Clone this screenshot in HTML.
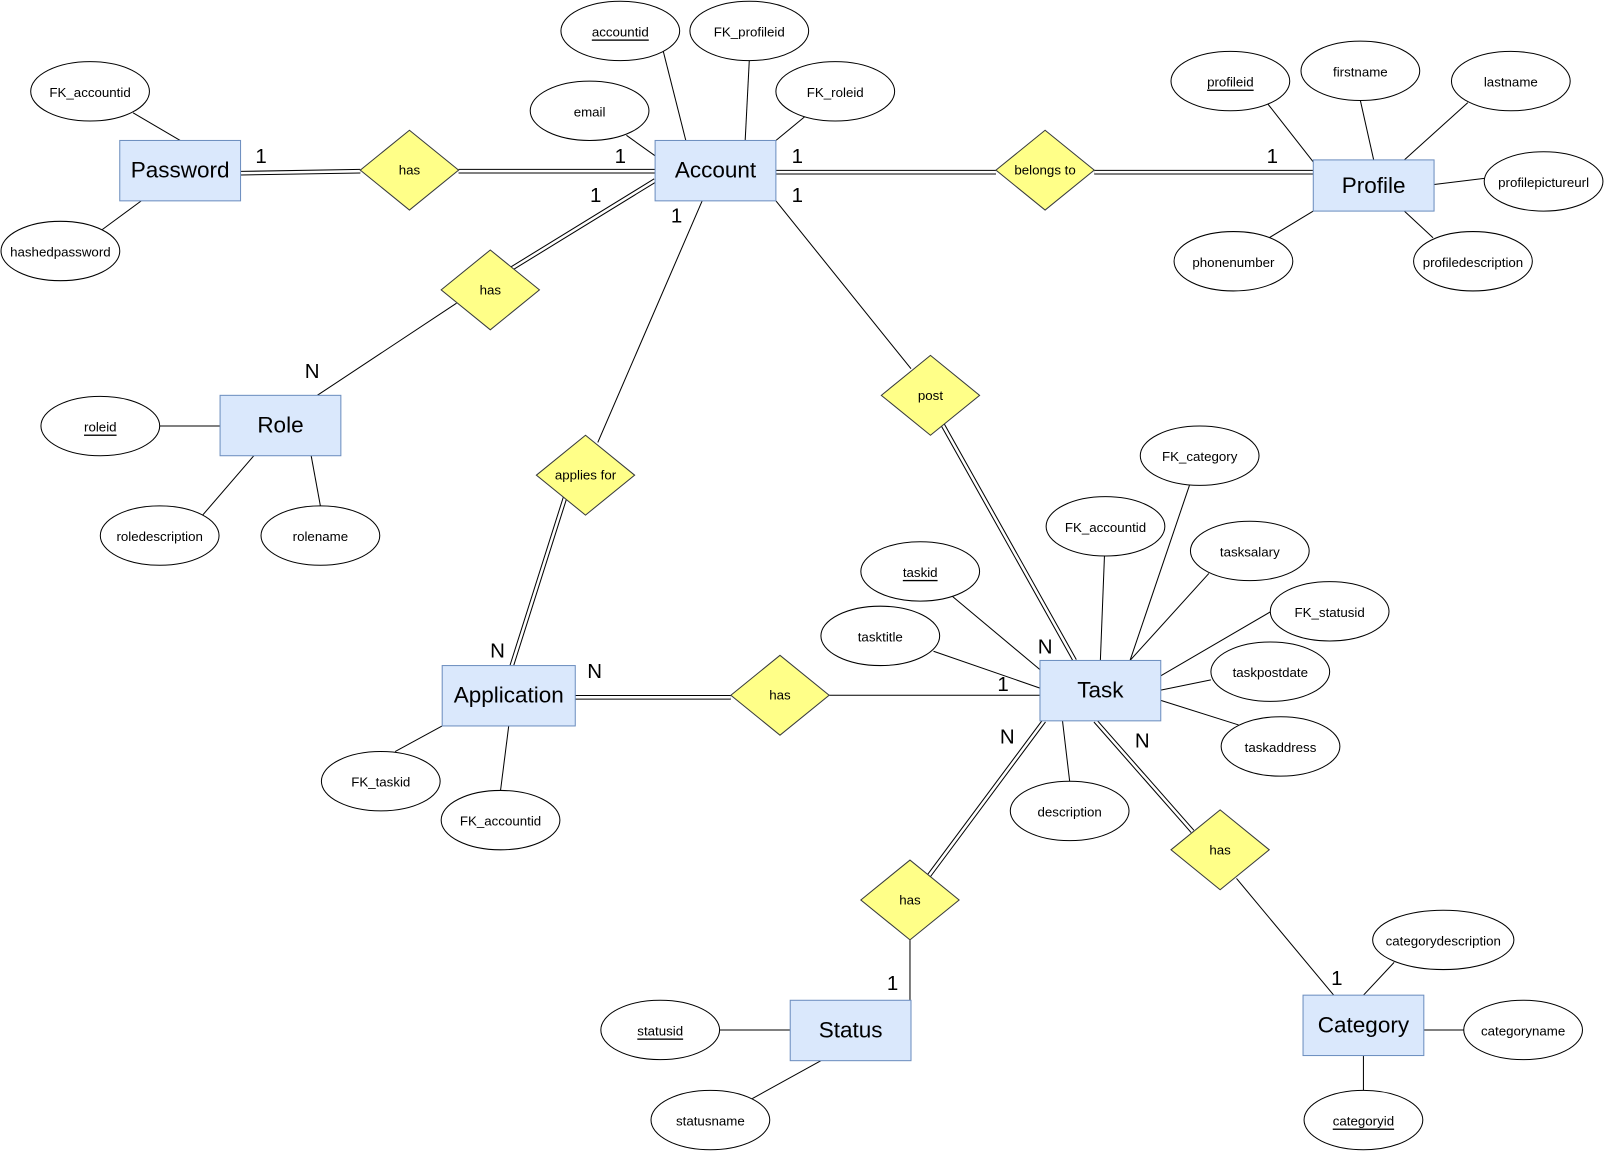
<!DOCTYPE html>
<html><head><meta charset="utf-8"><style>
html,body{margin:0;padding:0;background:#fff;}
svg{display:block;}
text{font-family:"Liberation Sans",Arial,sans-serif;fill:#000;}
.ent rect{fill:#dae8fc;stroke:#6c8ebf;stroke-width:1;}
.ent text{font-size:22px;text-anchor:middle;dominant-baseline:central;}
.att ellipse{fill:#fff;stroke:#000;stroke-width:1;}
.att text{font-size:13px;text-anchor:middle;dominant-baseline:central;}
.rel polygon{fill:#ffff88;stroke:#36393d;stroke-width:1;}
.rel text{font-size:13px;text-anchor:middle;dominant-baseline:central;}
.l{stroke:#000;stroke-width:1;fill:none;}
.d1{stroke:#000;stroke-width:4.5;fill:none;}
.d2{stroke:#fff;stroke-width:2.5;fill:none;}
.c{font-size:20px;text-anchor:middle;}
</style></head><body>
<svg width="1605" height="1152" viewBox="0 0 1568 1125" xmlns="http://www.w3.org/2000/svg">
<!-- attribute lines -->
<g class="l">
<line x1="130" y1="110" x2="176" y2="137"/><line x1="100" y1="224" x2="138" y2="196"/>
<line x1="648" y1="50" x2="670" y2="137"/><line x1="732" y1="59" x2="728" y2="137"/>
<line x1="612" y1="132" x2="640" y2="152"/><line x1="786" y1="114" x2="758" y2="137"/>
<line x1="1236" y1="98" x2="1283" y2="158"/><line x1="1329" y1="98" x2="1342" y2="156"/>
<line x1="1434" y1="100" x2="1372" y2="156"/><line x1="1450" y1="174" x2="1401" y2="180"/>
<line x1="1240" y1="232" x2="1283" y2="206"/><line x1="1400" y1="232" x2="1372" y2="206"/>
<line x1="156" y1="416" x2="215" y2="416"/><line x1="198" y1="503" x2="248" y2="445"/>
<line x1="313" y1="494" x2="304" y2="445"/>
<line x1="1162" y1="474" x2="1104" y2="645"/><line x1="1079" y1="543" x2="1075" y2="645"/>
<line x1="930" y1="582" x2="1016" y2="654"/><line x1="1181" y1="560" x2="1104" y2="645"/>
<line x1="912" y1="636" x2="1016" y2="672"/><line x1="1242" y1="597" x2="1134" y2="660"/>
<line x1="1183" y1="664" x2="1134" y2="674"/><line x1="1210" y1="708" x2="1134" y2="684"/>
<line x1="1045" y1="763" x2="1038" y2="704"/>
<line x1="386" y1="734" x2="432" y2="709"/><line x1="489" y1="772" x2="497" y2="709"/>
<line x1="1332" y1="972" x2="1362" y2="940"/><line x1="1391" y1="1006" x2="1430" y2="1006"/>
<line x1="1332" y1="1031" x2="1332" y2="1065"/>
<line x1="703" y1="1006" x2="772" y2="1006"/><line x1="735" y1="1073" x2="802" y2="1036"/>
</g>
<!-- relationship lines -->
<g>
<path class="d1" d="M235 169 L352 167 M448 167 L640 167 M758 168 L973 168 M1069 168 L1283 168 M640 176 L500 262 M920 413 L1050 645 M552 486 L500 650 M562 681 L714 681 M1020 704 L907 856 M1070 704 L1165 812"/>
<path class="d2" d="M235 169 L352 167 M448 167 L640 167 M758 168 L973 168 M1069 168 L1283 168 M640 176 L500 262 M920 413 L1050 645 M552 486 L500 650 M562 681 L714 681 M1020 704 L907 856 M1070 704 L1165 812"/>
<path class="l" d="M446 296 L310 386 M758 196 L890 360 M686 196 L584 432 M810 679 L1016 679 M889 918 L889 977 M1208 858 L1303 972"/>
</g>
<!-- entities -->
<g class="ent">
<rect x="117" y="137" width="118" height="59"/><text x="176" y="166">Password</text>
<rect x="640" y="137" width="118" height="59"/><text x="699" y="166">Account</text>
<rect x="1283" y="156" width="118" height="50"/><text x="1342" y="181">Profile</text>
<rect x="215" y="386" width="118" height="59"/><text x="274" y="415">Role</text>
<rect x="432" y="650" width="130" height="59"/><text x="497" y="679">Application</text>
<rect x="1016" y="645" width="118" height="59"/><text x="1075" y="674">Task</text>
<rect x="772" y="977" width="118" height="59"/><text x="831" y="1006">Status</text>
<rect x="1273" y="972" width="118" height="59"/><text x="1332" y="1001">Category</text>
</g>
<!-- relationships -->
<g class="rel">
<polygon points="352,166 400,127 448,166 400,205"/><text x="400" y="166">has</text>
<polygon points="973,166 1021,127 1069,166 1021,205"/><text x="1021" y="166">belongs to</text>
<polygon points="431,283 479,244 527,283 479,322"/><text x="479" y="283">has</text>
<polygon points="861,386 909,347 957,386 909,425"/><text x="909" y="386">post</text>
<polygon points="524,464 572,425 620,464 572,503"/><text x="572" y="464">applies for</text>
<polygon points="714,679 762,640 810,679 762,718"/><text x="762" y="679">has</text>
<polygon points="841,879 889,840 937,879 889,918"/><text x="889" y="879">has</text>
<polygon points="1144,830 1192,791 1240,830 1192,869"/><text x="1192" y="830">has</text>
</g>
<!-- attributes -->
<g class="att">
<ellipse cx="88" cy="89" rx="58" ry="29"/><text x="88" y="90">FK_accountid</text>
<ellipse cx="59" cy="245" rx="58" ry="29"/><text x="59" y="246">hashedpassword</text>
<ellipse cx="606" cy="30" rx="58" ry="29"/><text x="606" y="31" text-decoration="underline">accountid</text>
<ellipse cx="732" cy="30" rx="58" ry="29"/><text x="732" y="31">FK_profileid</text>
<ellipse cx="576" cy="108" rx="58" ry="29"/><text x="576" y="109">email</text>
<ellipse cx="816" cy="89" rx="58" ry="29"/><text x="816" y="90">FK_roleid</text>
<ellipse cx="1202" cy="79" rx="58" ry="29"/><text x="1202" y="80" text-decoration="underline">profileid</text>
<ellipse cx="1329" cy="69" rx="58" ry="29"/><text x="1329" y="70">firstname</text>
<ellipse cx="1476" cy="79" rx="58" ry="29"/><text x="1476" y="80">lastname</text>
<ellipse cx="1508" cy="177" rx="58" ry="29"/><text x="1508" y="178">profilepictureurl</text>
<ellipse cx="1205" cy="255" rx="58" ry="29"/><text x="1205" y="256">phonenumber</text>
<ellipse cx="1439" cy="255" rx="58" ry="29"/><text x="1439" y="256">profiledescription</text>
<ellipse cx="98" cy="416" rx="58" ry="29"/><text x="98" y="417" text-decoration="underline">roleid</text>
<ellipse cx="156" cy="523" rx="58" ry="29"/><text x="156" y="524">roledescription</text>
<ellipse cx="313" cy="523" rx="58" ry="29"/><text x="313" y="524">rolename</text>
<ellipse cx="1172" cy="445" rx="58" ry="29"/><text x="1172" y="446">FK_category</text>
<ellipse cx="1080" cy="514" rx="58" ry="29"/><text x="1080" y="515">FK_accountid</text>
<ellipse cx="899" cy="558" rx="58" ry="29"/><text x="899" y="559" text-decoration="underline">taskid</text>
<ellipse cx="1221" cy="538" rx="58" ry="29"/><text x="1221" y="539">tasksalary</text>
<ellipse cx="860" cy="621" rx="58" ry="29"/><text x="860" y="622">tasktitle</text>
<ellipse cx="1299" cy="597" rx="58" ry="29"/><text x="1299" y="598">FK_statusid</text>
<ellipse cx="1241" cy="656" rx="58" ry="29"/><text x="1241" y="657">taskpostdate</text>
<ellipse cx="1251" cy="729" rx="58" ry="29"/><text x="1251" y="730">taskaddress</text>
<ellipse cx="1045" cy="792" rx="58" ry="29"/><text x="1045" y="793">description</text>
<ellipse cx="372" cy="763" rx="58" ry="29"/><text x="372" y="764">FK_taskid</text>
<ellipse cx="489" cy="801" rx="58" ry="29"/><text x="489" y="802">FK_accountid</text>
<ellipse cx="1410" cy="918" rx="69" ry="29"/><text x="1410" y="919">categorydescription</text>
<ellipse cx="1488" cy="1006" rx="58" ry="29"/><text x="1488" y="1007">categoryname</text>
<ellipse cx="1332" cy="1094" rx="58" ry="29"/><text x="1332" y="1095" text-decoration="underline">categoryid</text>
<ellipse cx="645" cy="1006" rx="58" ry="29"/><text x="645" y="1007" text-decoration="underline">statusid</text>
<ellipse cx="694" cy="1094" rx="58" ry="29"/><text x="694" y="1095">statusname</text>
</g>
<!-- cardinalities -->
<g class="c">
<text x="255" y="159">1</text><text x="606" y="159">1</text><text x="779" y="159">1</text><text x="1243" y="159">1</text>
<text x="582" y="197">1</text><text x="779" y="197">1</text><text x="661" y="217">1</text>
<text x="305" y="369">N</text><text x="486" y="642">N</text><text x="581" y="662">N</text>
<text x="1021" y="638">N</text><text x="980" y="675">1</text><text x="984" y="726">N</text><text x="1116" y="730">N</text>
<text x="872" y="967">1</text><text x="1306" y="962">1</text>
</g>
</svg>
</body></html>
